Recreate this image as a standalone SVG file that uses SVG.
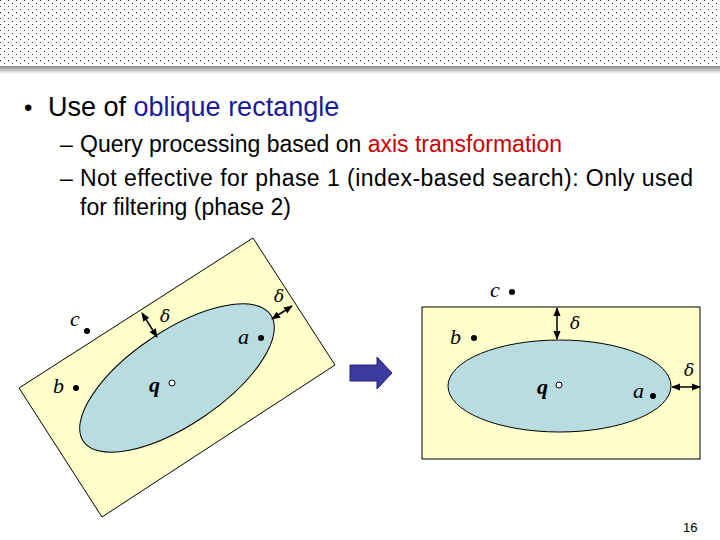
<svg xmlns="http://www.w3.org/2000/svg" width="720" height="540" viewBox="0 0 720 540">
<defs>
<pattern id="dots" width="8" height="6" patternUnits="userSpaceOnUse"><rect x="0" y="0" width="1" height="1" fill="#333"/><rect x="4" y="3" width="1" height="1" fill="#333"/></pattern>
<linearGradient id="sh" x1="0" y1="0" x2="0" y2="1"><stop offset="0" stop-color="#888"/><stop offset="1" stop-color="#fff"/></linearGradient>
<marker id="ah" viewBox="0 0 10 10" refX="9" refY="5" markerWidth="6" markerHeight="6" orient="auto-start-reverse"><path d="M0,1 L10,5 L0,9 Z" fill="#000"/></marker>
<style>
.t{font-family:"Liberation Sans",Arial,sans-serif;fill:#000}
.m{font-family:"Liberation Serif","Times New Roman",serif;font-style:italic;font-size:22px;fill:#000}
.d{font-family:"DejaVu Serif","Liberation Serif",serif;font-style:italic;font-size:17px;fill:#000}
.rect{fill:#ffffcc;stroke:#000;stroke-width:1}
.ell{fill:#b8dce0;stroke:#000;stroke-width:1}
.arr{stroke:#000;stroke-width:1.5;fill:none;marker-start:url(#ah);marker-end:url(#ah)}
</style>
</defs>
<rect width="720" height="540" fill="#fff"/>
<rect x="0" y="0" width="720" height="66" fill="url(#dots)"/>
<rect x="0" y="66" width="720" height="8" fill="url(#sh)"/>
<text class="t" x="24" y="116" font-size="24">•</text>
<text class="t" x="48" y="116" font-size="27">Use of <tspan fill="#1a1a9a">oblique rectangle</tspan></text>
<text class="t" x="60" y="152" font-size="23">–</text>
<text class="t" x="80" y="152" font-size="23">Query processing based on <tspan fill="#cc0000">axis transformation</tspan></text>
<text class="t" x="60" y="186" font-size="23">–</text>
<text class="t" x="80" y="186" font-size="23" textLength="613">Not effective for phase 1 (index-based search): Only used</text>
<text class="t" x="80" y="215" font-size="23">for filtering (phase 2)</text>
<g id="left">
<polygon class="rect" points="253,238 335,365 102,517 19,388"/>
<ellipse class="ell" cx="177" cy="378" rx="113" ry="47" transform="rotate(-34 177 378)"/>
</g>
<g id="right">
<rect class="rect" x="422" y="307" width="278" height="152"/>
<ellipse class="ell" cx="559.5" cy="386" rx="111.5" ry="46"/>
</g>
<g id="transform-arrow">
<polygon points="350,365 377,365 377,357 392,373 377,389 377,381 350,381" fill="#3b3b9e" stroke="#22227a" stroke-width="1"/>
</g>
<g id="connectors">
<line class="arr" x1="142" y1="313" x2="157" y2="337"/>
<line class="arr" x1="272" y1="319" x2="292" y2="306"/>
<line class="arr" x1="557" y1="308" x2="557" y2="339"/>
<line class="arr" x1="672" y1="387" x2="700" y2="387"/>
</g>
<g id="points">
<circle cx="87" cy="331" r="3"/><text class="m" x="70" y="326">c</text>
<circle cx="76" cy="388" r="3"/><text class="m" x="53" y="393">b</text>
<circle cx="172" cy="383" r="3" fill="#fff" stroke="#000"/><text class="m" x="149" y="392" font-weight="bold">q</text>
<circle cx="261" cy="338" r="3"/><text class="m" x="238" y="344">a</text>
<text class="d" x="160" y="322">δ</text>
<text class="d" x="274" y="302">δ</text>
<circle cx="512" cy="292" r="3"/><text class="m" x="490" y="297">c</text>
<circle cx="474" cy="338" r="3"/><text class="m" x="450" y="344">b</text>
<circle cx="559" cy="385" r="3" fill="#fff" stroke="#000"/><text class="m" x="537" y="394" font-weight="bold">q</text>
<circle cx="653" cy="396" r="3"/><text class="m" x="633" y="398">a</text>
<text class="d" x="570" y="329">δ</text>
<text class="d" x="684" y="376">δ</text>
</g>
<text class="t" x="683" y="532" font-size="13">16</text>
</svg>
